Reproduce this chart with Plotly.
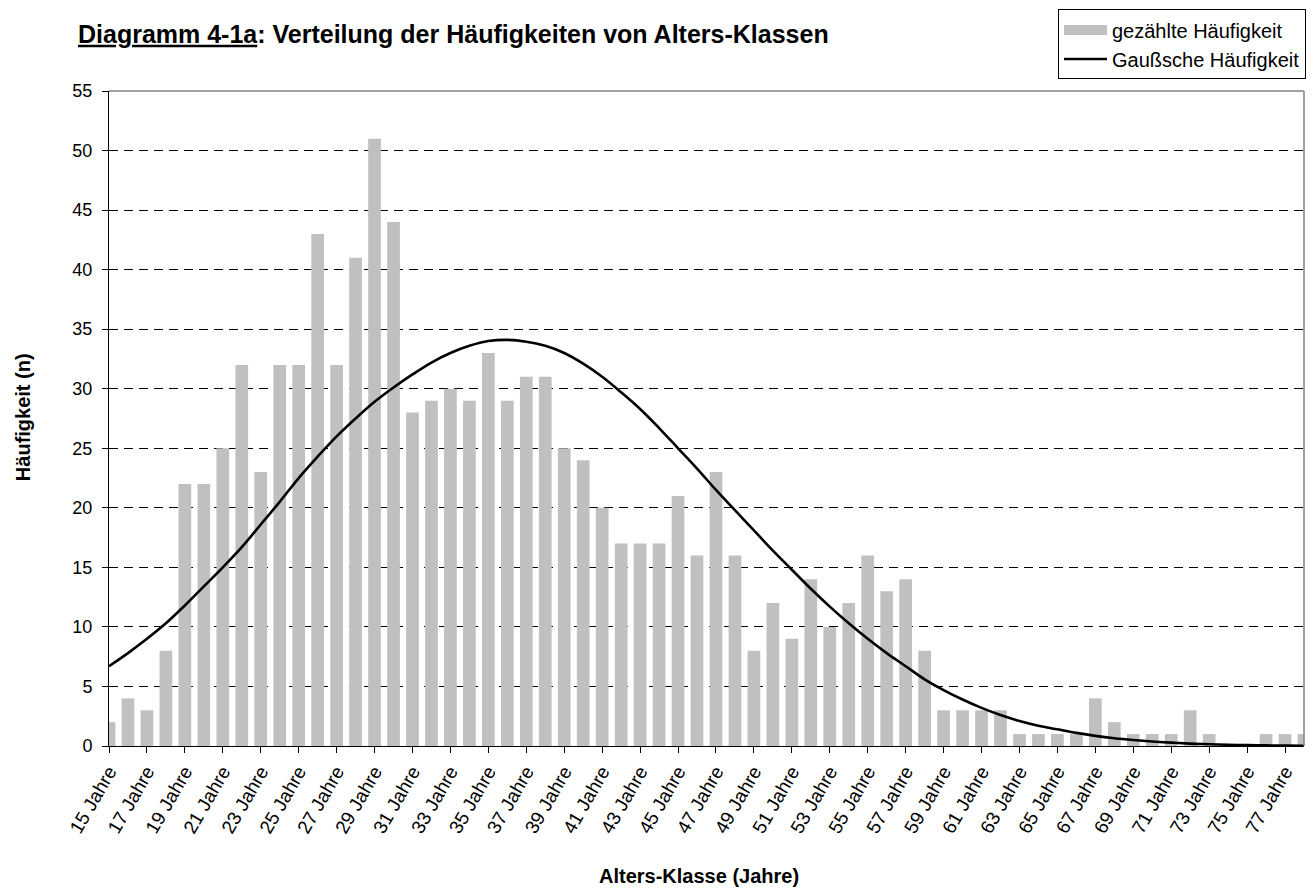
import plotly.graph_objects as go

ages = [15, 16, 17, 18, 19, 20, 21, 22, 23, 24, 25, 26, 27, 28, 29, 30, 31, 32,
        33, 34, 35, 36, 37, 38, 39, 40, 41, 42, 43, 44, 45, 46, 47, 48, 49, 50,
        51, 52, 53, 54, 55, 56, 57, 58, 59, 60, 61, 62, 63, 64, 65, 66, 67, 68,
        69, 70, 71, 72, 73, 74, 75, 76, 77, 78]

counted = [2, 4, 3, 8, 22, 22, 25, 32, 23, 32,
           32, 43, 32, 41, 51, 44, 28, 29, 30, 29,
           33, 29, 31, 31, 25, 24, 20, 17, 17, 17,
           21, 16, 23, 16, 8, 12, 9, 14, 10, 12,
           16, 13, 14, 8, 3, 3, 3, 3, 1, 1,
           1, 1, 4, 2, 1, 1, 1, 3, 1, 0,
           0, 1, 1, 1]

gauss = [6.7, 7.8, 9.0, 10.3, 11.8, 13.4, 15.0, 16.7, 18.6, 20.5,
         22.5, 24.3, 26.0, 27.5, 28.9, 30.1, 31.2, 32.2, 33.0, 33.6,
         34.0, 34.1, 33.95, 33.6, 33.0, 32.1, 31.0, 29.7, 28.3, 26.7,
         25.0, 23.3, 21.5, 19.8, 18.1, 16.4, 14.8, 13.2, 11.7, 10.3,
         9.0, 7.8, 6.7, 5.6, 4.7, 3.9, 3.2, 2.6, 2.1, 1.7,
         1.4, 1.1, 0.85, 0.65, 0.5, 0.38, 0.28, 0.2, 0.15, 0.1,
         0.07, 0.05, 0.03, 0.02]

tick_ages = [15, 17, 19, 21, 23, 25, 27, 29, 31, 33, 35, 37, 39, 41, 43, 45,
             47, 49, 51, 53, 55, 57, 59, 61, 63, 65, 67, 69, 71, 73, 75, 77]
tick_labels = ["15 Jahre", "17 Jahre", "19 Jahre", "21 Jahre", "23 Jahre",
               "25 Jahre", "27 Jahre", "29 Jahre", "31 Jahre", "33 Jahre",
               "35 Jahre", "37 Jahre", "39 Jahre", "41 Jahre", "43 Jahre",
               "45 Jahre", "47 Jahre", "49 Jahre", "51 Jahre", "53 Jahre",
               "55 Jahre", "57 Jahre", "59 Jahre", "61 Jahre", "63 Jahre",
               "65 Jahre", "67 Jahre", "69 Jahre", "71 Jahre", "73 Jahre",
               "75 Jahre", "77 Jahre"]

name_bars = "gezählte Häufigkeit"
name_line = "Gaußsche Häufigkeit"

FONT = "Arial, Liberation Sans, sans-serif"
BAR_COLOR = "#C0C0C0"

W, H = 1316, 888
L, R, T, B = 109, 10, 87, 142
PW, PH = W - L - R, H - T - B

fig = go.Figure()
fig.add_trace(go.Bar(x=ages, y=counted, name=name_bars, marker_color=BAR_COLOR,
                     marker_line_width=0, showlegend=False))
# legend proxy for the bar series (wide grey swatch like the original)
fig.add_trace(go.Scatter(x=[None], y=[None], mode="lines", name=name_bars,
                         line=dict(color=BAR_COLOR, width=13)))
fig.add_trace(go.Scatter(x=ages, y=gauss, mode="lines", name=name_line,
                         line=dict(color="black", width=2.6, shape="spline",
                                   smoothing=1.0)))

fig.update_layout(
    width=W, height=H,
    margin=dict(l=L, r=R, t=T, b=B),
    paper_bgcolor="white", plot_bgcolor="white",
    font=dict(family=FONT, color="black", size=18),
    bargap=0.33,
    title=dict(text="<b><u>Diagramm 4-1a</u>: Verteilung der Häufigkeiten von Alters-Klassen</b>",
               x=78 / W, xanchor="left", xref="container",
               y=1 - 34 / H, yanchor="middle", yref="container",
               font=dict(size=25, family=FONT)),
    legend=dict(x=(1308 - L) / PW, xanchor="right", y=(H - B - 5) / PH,
                yanchor="top",
                bordercolor="black", borderwidth=1, bgcolor="white",
                font=dict(size=20, family=FONT), itemwidth=43,
                tracegroupgap=0, traceorder="normal"),
    xaxis=dict(range=[15, 78], tickmode="array", tickvals=tick_ages,
               ticktext=tick_labels, tickangle=-60, ticks="outside",
               ticklen=6, tickcolor="black", showline=True, linecolor="black",
               linewidth=1, showgrid=False, zeroline=False,
               tickfont=dict(size=19, family=FONT)),
    yaxis=dict(range=[0, 55], tickmode="linear", tick0=0, dtick=5,
               ticks="outside", ticklen=6, tickcolor="black", showline=True,
               linecolor="black", linewidth=1, showgrid=True,
               gridcolor="black", gridwidth=1, griddash="9px,6px",
               zeroline=False, ticklabelstandoff=6,
               tickfont=dict(size=18, family=FONT)),
    annotations=[
        dict(text="<b>Alters-Klasse (Jahre)</b>", xref="paper", yref="paper",
             x=(700 - L) / PW, y=(H - B - 877) / PH, xanchor="center",
             yanchor="middle", showarrow=False, font=dict(size=20, family=FONT)),
        dict(text="<b>Häufigkeit (n)</b>", xref="paper", yref="paper",
             x=(23 - L) / PW, y=(H - B - 415) / PH, xanchor="center",
             yanchor="middle", textangle=-90, showarrow=False,
             font=dict(size=20, family=FONT)),
    ],
    shapes=[
        dict(type="line", xref="paper", yref="paper", x0=0, x1=1, y0=1, y1=1,
             line=dict(color="#808080", width=1.5)),
        dict(type="line", xref="paper", yref="paper", x0=1, x1=1, y0=0, y1=1,
             line=dict(color="#808080", width=1.5)),
    ],
)

fig.write_html("out.html",
               config={"displayModeBar": False},
               post_script="document.body.style.margin='0';"
                           "document.body.style.overflow='hidden';")
